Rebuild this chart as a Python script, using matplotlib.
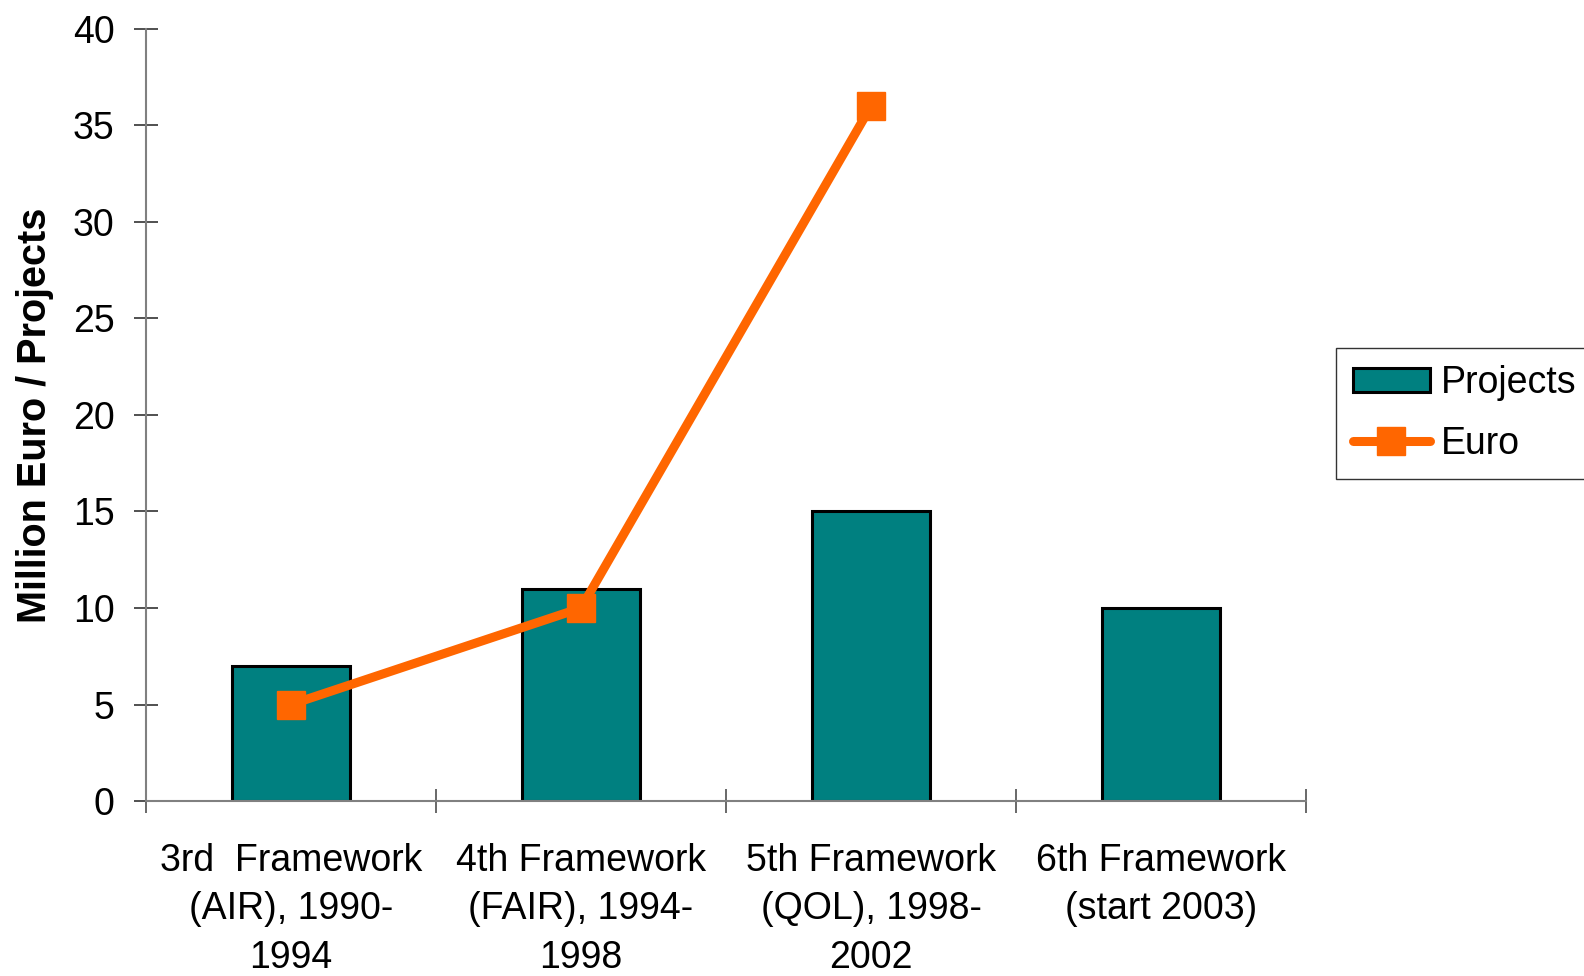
import numpy as np
import matplotlib
matplotlib.use("Agg")
import matplotlib.pyplot as plt

plt.rcParams['font.family'] = ['Liberation Sans', 'DejaVu Sans']

# data
categories = ["3rd  Framework\n(AIR), 1990-\n1994",
              "4th Framework\n(FAIR), 1994-\n1998",
              "5th Framework\n(QOL), 1998-\n2002",
              "6th Framework\n(start 2003)"]
projects = [7, 11, 15, 10]
euro = [5, 10, 36]

teal = "#008080"
orange = "#FF6600"

fig = plt.figure(figsize=(15.84, 9.76), dpi=100)
ax = fig.add_axes([0.0922, 0.1793, 0.7323, 0.791])

x = np.arange(len(categories))
bars = ax.bar(x, projects, width=0.405, color=teal, edgecolor="black",
              linewidth=2.2, label="Projects", zorder=2)
line, = ax.plot(x[:len(euro)], euro, color=orange, linewidth=6.5,
                marker="s", markersize=20, solid_capstyle="round",
                label="Euro", zorder=3)

ax.set_xlim(-0.5, 3.5)
ax.set_ylim(0, 40)
ax.set_yticks(np.arange(0, 41, 5))

# ticks at category boundaries, labels at centres
ax.set_xticks(np.arange(-0.5, 4, 1))
ax.set_xticklabels([])
ax.set_xticks(x, minor=True)
ax.set_xticklabels(categories, minor=True, fontsize=27, linespacing=1.45)
ax.tick_params(axis="x", which="minor", length=0, pad=30)
ax.tick_params(axis="x", which="major", direction="inout", length=17,
               width=1.1, color="#404040")
ax.tick_params(axis="y", direction="inout", length=17, width=1.1,
               color="#202020", labelsize=27, pad=14)

for s in ["top", "right"]:
    ax.spines[s].set_visible(False)
for s in ["left", "bottom"]:
    ax.spines[s].set_color("#808080")
    ax.spines[s].set_linewidth(1.5)

ax.set_ylabel("Million Euro / Projects", fontsize=28.5, fontweight="bold",
              labelpad=14)

leg = fig.legend(handles=[bars, line], labels=["Projects", "Euro"],
                 loc="upper left", bbox_to_anchor=(1336 / 1584, 1 - 348 / 976),
                 fontsize=27, frameon=True, fancybox=False, edgecolor="black",
                 handlelength=2.05, handleheight=0.6, borderpad=0.45,
                 labelspacing=0.67, handletextpad=0.3, borderaxespad=0)
leg.get_frame().set_linewidth(1.0)

fig.savefig("out.png", dpi=100)
